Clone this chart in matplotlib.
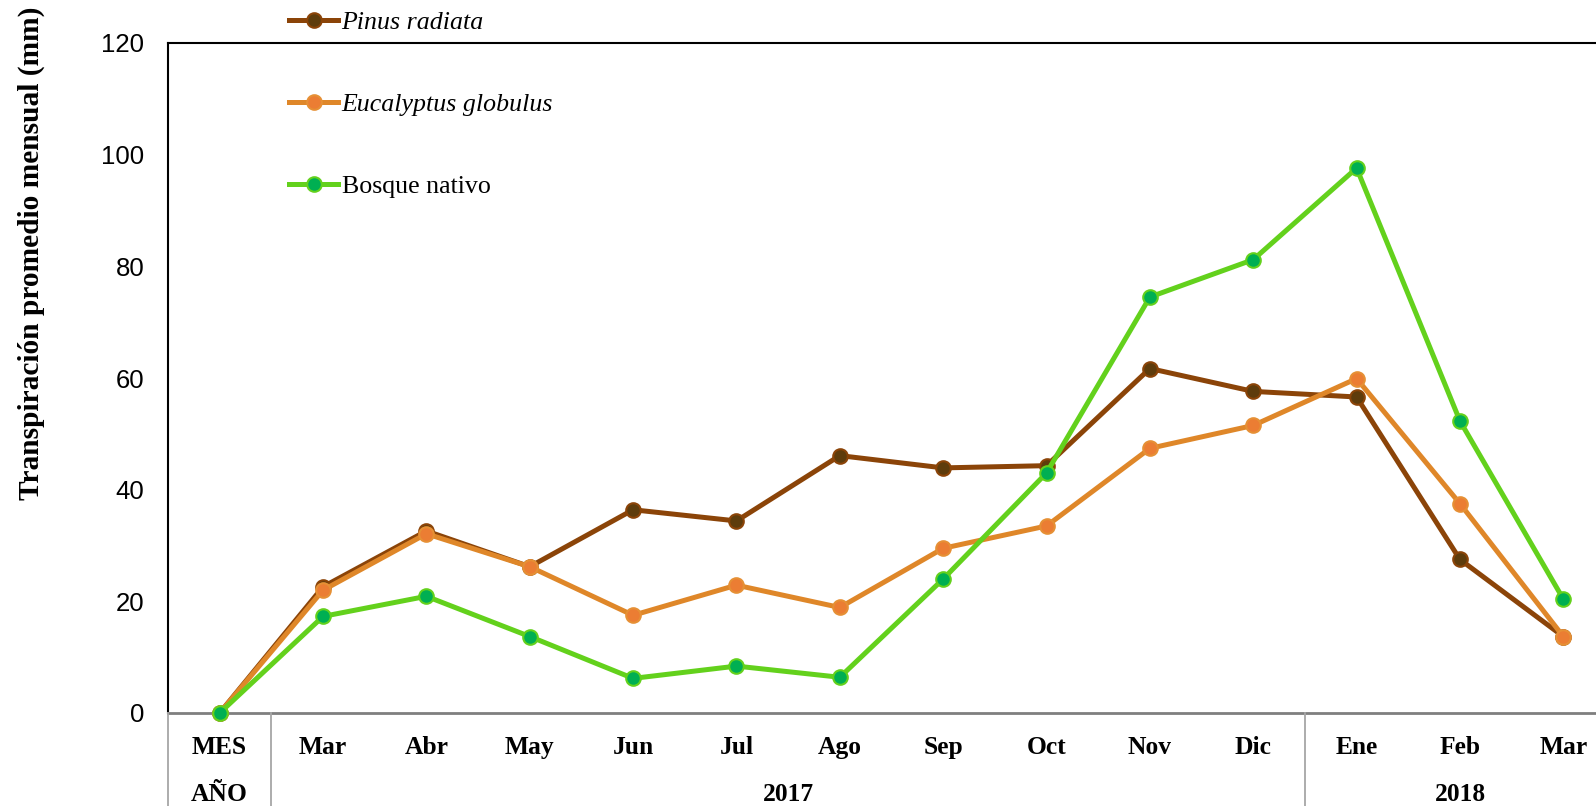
import matplotlib
matplotlib.use("Agg")
import matplotlib.pyplot as plt
from matplotlib.lines import Line2D
import matplotlib.transforms as mtransforms

meses = ["MES", "Mar", "Abr", "May", "Jun", "Jul", "Ago", "Sep", "Oct",
         "Nov", "Dic", "Ene", "Feb", "Mar"]
anios = [("AÑO", 0, 0), ("2017", 1, 10), ("2018", 11, 13)]

pinus = [0, 22.6, 32.6, 26.2, 36.4, 34.4, 46.1, 43.9, 44.3, 61.7, 57.6, 56.6, 27.5, 13.7]
eucalyptus = [0, 22.0, 32.1, 26.2, 17.5, 22.9, 18.9, 29.5, 33.5, 47.4, 51.5, 59.9, 37.5, 13.7]
bosque = [0, 17.3, 20.9, 13.7, 6.2, 8.4, 6.4, 24.0, 43.0, 74.5, 81.2, 97.6, 52.3, 20.4]

series = [
    ("Pinus radiata", pinus, "#8B4408", "#5E3C0C", "#8B4408", True),
    ("Eucalyptus globulus", eucalyptus, "#DF8729", "#EB7D33", "#E69035", True),
    ("Bosque nativo", bosque, "#63D11C", "#00AF52", "#63D11C", False),
]

W, H = 1596, 806
fig = plt.figure(figsize=(W / 100, H / 100), dpi=100)
ax_left, ax_right, ax_top, ax_bot = 168, 1615, 43, 713
ax = fig.add_axes([ax_left / W, 1 - ax_bot / H, (ax_right - ax_left) / W, (ax_bot - ax_top) / H])

x = list(range(len(meses)))
handles = []
for name, vals, lc, mfc, mec, ital in series:
    h, = ax.plot(x, vals, color=lc, lw=3.6, marker="o", ms=10.5, mfc=mfc, mec=mec,
                 mew=1.5, clip_on=False, zorder=3, label=name)
    handles.append(h)

ax.set_xlim(-0.5, len(meses) - 0.5)
ax.set_ylim(0, 120)
ax.set_yticks(range(0, 121, 20))
ax.tick_params(axis="y", length=0, pad=17, labelsize=18.5)
for lab in ax.get_yticklabels():
    lab.set_fontfamily("Liberation Sans")
ax.set_xticks([])

for s in ("left", "top"):
    ax.spines[s].set_color("black")
    ax.spines[s].set_linewidth(1.5)
ax.spines["right"].set_visible(False)
ax.spines["bottom"].set_color("#7f7f7f")
ax.spines["bottom"].set_linewidth(2)

# Month / year table below the axis
trans = mtransforms.blended_transform_factory(ax.transData, fig.transFigure)
row1_y = 1 - 754 / H
row2_y = 1 - 801 / H
for i, m in enumerate(meses):
    fig.text(i, row1_y, m, transform=trans, ha="center", va="baseline",
             family="Liberation Serif", fontweight="bold", fontsize=18.4)
for label, a, b in anios:
    fig.text((a + b) / 2, row2_y, label, transform=trans, ha="center", va="baseline",
             family="Liberation Serif", fontweight="bold", fontsize=18.4)
for xv in (-0.5, 0.5, 10.5):
    fig.add_artist(Line2D([xv, xv], [0, 1 - ax_bot / H], transform=trans,
                          color="#a6a6a6", lw=1.3))

fig.text(31 / W, 1 - 253 / H, "Transpiración promedio mensual (mm)", rotation=90,
         ha="center", va="center", family="Liberation Serif", fontweight="bold",
         fontsize=21.2)

leg = fig.legend(handles=handles, loc="upper left", bbox_to_anchor=(279 / W, 1 - 1 / H),
                 frameon=False, handlelength=1.9, handletextpad=0.12,
                 labelspacing=2.28, borderaxespad=0,
                 prop={"family": "Liberation Serif", "size": 18.6})
for txt, (_, _, _, _, _, ital) in zip(leg.get_texts(), series):
    if ital:
        txt.set_fontstyle("italic")

fig.savefig("out.png", dpi=100)
